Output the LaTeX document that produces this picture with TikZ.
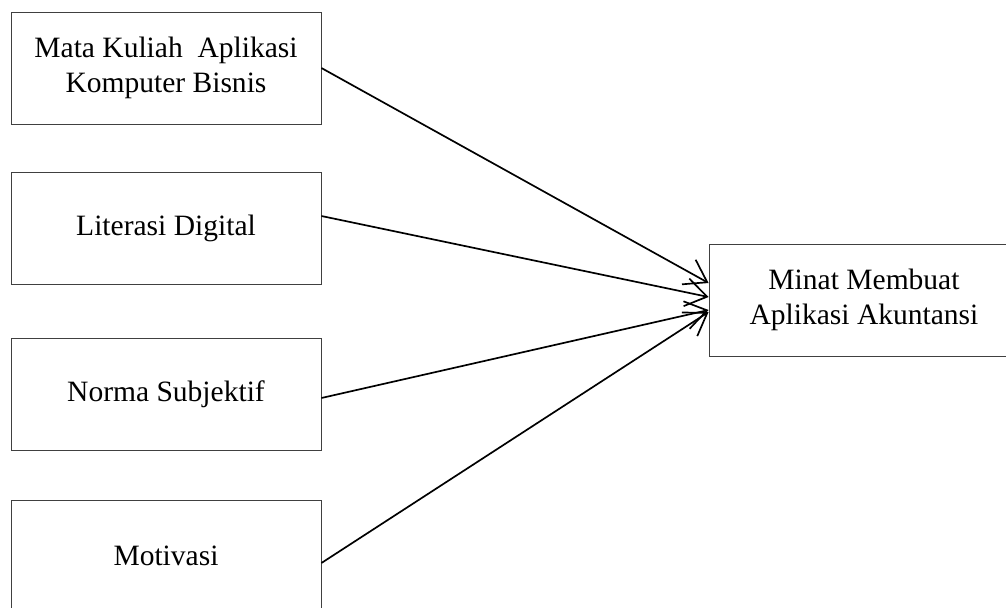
\documentclass[tikz,border=0pt]{standalone}
\usepackage{fontspec}
\setmainfont{Liberation Serif}
\usetikzlibrary{arrows.meta}

\begin{document}
\begin{tikzpicture}[
		box/.style={draw=black!75, line width=.6pt, minimum width=7.75cm, minimum height=2.8cm, align=center, font=\fontsize{21}{25}\selectfont},
		arr/.style={-{Straight Barb[length=15pt,width=20pt]}, line width=1.2pt}]
		\clip (0,0) rectangle (25.15,-15.175);
		\useasboundingbox (0,0) rectangle (25.15,-15.175);
		\node [box] (mk) at (4.15,-1.7) {Mata Kuliah\ \ Aplikasi\\Komputer Bisnis};
		\node [box] (ld) at (4.15,-5.7) {Literasi Digital};
		\node [box] (ns) at (4.15,-9.85) {Norma Subjektif};
		\node [box] (mo) at (4.15,-13.9) {Motivasi};
		\node [box] (mat) at (21.6,-7.5) {Minat Membuat\\Aplikasi Akuntansi};
		\draw [arr] (mk.east) to ([yshift=.425cm]mat.west);
		\draw [arr] ([yshift=.3cm]ld.east) to ([yshift=.075cm]mat.west);
		\draw [arr] ([yshift=-.1cm]ns.east) to ([yshift=-.25cm]mat.west);
		\draw [arr] ([yshift=-.175cm]mo.east) to ([yshift=-.3cm]mat.west);
	\end{tikzpicture}
\end{document}
